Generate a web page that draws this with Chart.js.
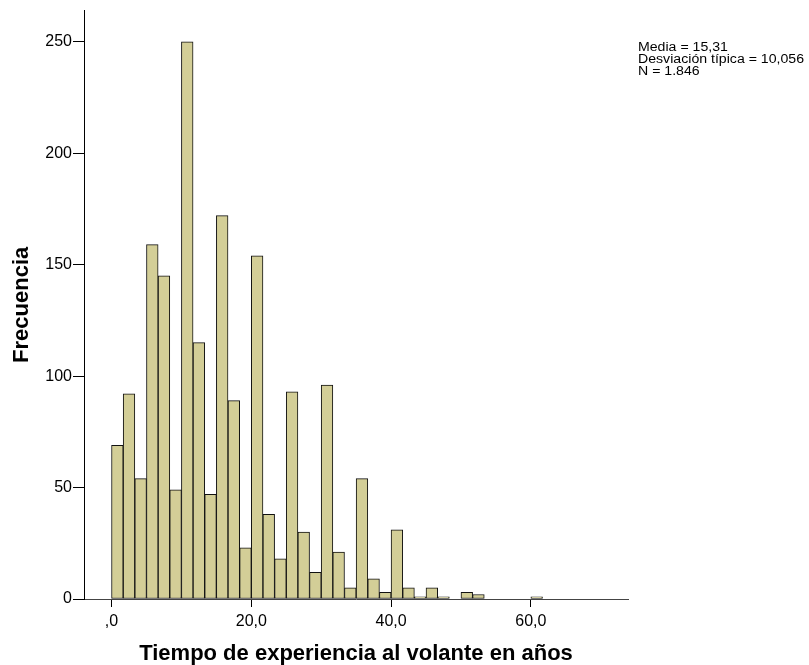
<!DOCTYPE html>
<html>
<head>
<meta charset="utf-8">
<script src="https://cdn.jsdelivr.net/npm/chart.js@4/dist/chart.umd.min.js"></script>
<style>
    html, body { margin: 0; padding: 0; background: #fff; }
    #wrap { width: 809px; height: 665px; }
</style>
</head>
<body>
<div id="wrap"><canvas id="chartHistograma"></canvas></div>
<script>
const anchoIntervalo = 5 / 3;
const frecuencias = [
    69, 92, 54, 159, 145, 49, 250, 115, 47, 172, 89, 23, 154, 38, 18, 93,
    30, 12, 96, 21, 5, 54, 9, 3, 31, 5, 1, 5, 1, 0, 3, 2, 0, 0, 0, 0, 1
];
const ticksX = [0, 20, 40, 60];
const ticksY = [0, 50, 100, 150, 200, 250];
const estadisticos = ['Media = 15,31', 'Desviación típica = 10,056', 'N = 1.846'];

const fuente = "'Liberation Sans', Arial, sans-serif";

const puntos = frecuencias.map((f, i) => ({ x: (i + 0.5) * anchoIntervalo, y: f }));

// texto de estadisticos arriba a la derecha (algo estirado a lo ancho, como en SPSS)
const textoEstadisticos = {
    id: 'textoEstadisticos',
    afterDraw(chart) {
        const ctx = chart.ctx;
        ctx.save();
        ctx.translate(638, 0);
        ctx.scale(1.13, 1);
        ctx.font = '12.5px ' + fuente;
        ctx.fillStyle = '#000';
        ctx.textBaseline = 'alphabetic';
        estadisticos.forEach((t, i) => ctx.fillText(t, 0, 51 + i * 12));
        ctx.restore();
    }
};

new Chart(document.getElementById('chartHistograma'), {
    type: 'bar',
    data: {
        datasets: [{
            label: 'Frecuencia',
            data: puntos,
            backgroundColor: 'rgb(211, 206, 151)',
            borderColor: '#111',
            borderWidth: 1,
            borderSkipped: false,
            barPercentage: 1,
            categoryPercentage: 1
        }]
    },
    options: {
        responsive: true,
        maintainAspectRatio: false,
        animation: false,
        layout: { padding: { top: 10, right: 181, left: 0, bottom: 0 } },
        plugins: {
            legend: { display: false },
            tooltip: { enabled: false }
        },
        scales: {
            x: {
                type: 'linear',
                offset: false,
                min: -3.94,
                max: 73.9,
                afterFit: s => { s.height = 66; },
                afterBuildTicks: s => { s.ticks = ticksX.map(v => ({ value: v })); },
                ticks: {
                    font: { family: fuente, size: 16 },
                    color: '#000',
                    padding: 5,
                    maxRotation: 0,
                    callback: v => v === 0 ? ',0' : v.toFixed(1).replace('.', ',')
                },
                grid: { offset: false, drawOnChartArea: false, drawTicks: true, tickLength: 8, color: '#000' },
                border: { display: true, color: '#444' },
                title: {
                    display: true,
                    text: 'Tiempo de experiencia al volante en años',
                    font: { family: fuente, size: 22, weight: 'bold', lineHeight: 1 },
                    color: '#000',
                    padding: { top: 0, bottom: 0 }
                }
            },
            y: {
                min: 0,
                max: 264,
                afterFit: s => { s.width = 84; },
                afterBuildTicks: s => { s.ticks = ticksY.map(v => ({ value: v })); },
                ticks: {
                    font: { family: fuente, size: 16 },
                    color: '#000',
                    padding: 1
                },
                grid: { drawOnChartArea: false, drawTicks: true, tickLength: 11, color: '#000' },
                border: { display: true, color: '#000' },
                title: {
                    display: true,
                    text: 'Frecuencia',
                    font: { family: fuente, size: 22, weight: 'bold', lineHeight: 1 },
                    color: '#000',
                    padding: { top: 11, bottom: 0 }
                }
            }
        }
    },
    plugins: [textoEstadisticos]
});
</script>
</body>
</html>
